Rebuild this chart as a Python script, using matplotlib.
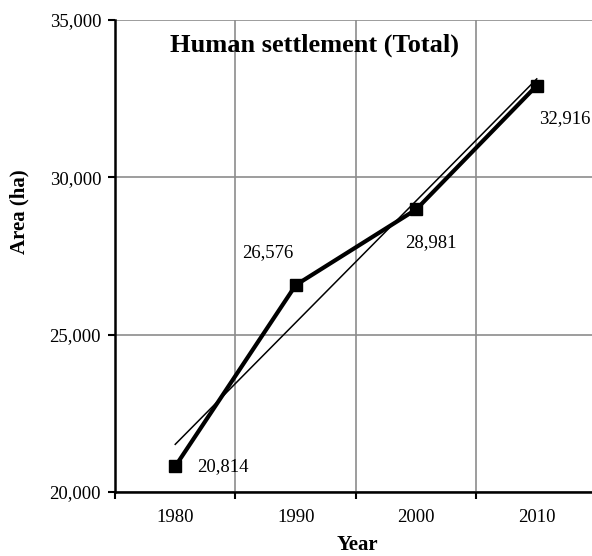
import numpy as np
import matplotlib
matplotlib.use('Agg')
from matplotlib import pyplot as plt
from matplotlib.ticker import FuncFormatter

years = ['1980', '1990', '2000', '2010']
area = [20814, 26576, 28981, 32916]
labels = ['20,814', '26,576', '28,981', '32,916']

plt.rcParams['font.family'] = ['Liberation Serif', 'DejaVu Serif']

fig = plt.figure(figsize=(5.92, 5.56), dpi=100)
ax = fig.add_axes([115 / 592, 1 - 492 / 556, 482 / 592, 472 / 556])

x = np.arange(len(years))

# linear trend line over the series
k, b = np.polyfit(x, area, 1)
ax.plot(x, k * x + b, color='black', lw=1.1, zorder=3)

ax.plot(x, area, color='black', lw=3, marker='s', ms=8, zorder=4)

# data labels, offsets in pixels
offsets = [(22, 0, 'left'), (-2, 32, 'right'), (-11, -33, 'left'), (2, -33, 'left')]
for xi, yi, lab, (dx, dy, ha) in zip(x, area, labels, offsets):
    ax.annotate(lab, (xi, yi), xytext=(dx, dy), textcoords='offset pixels',
                ha=ha, va='center', fontsize=13.5)

ax.set_xlim(-0.5, len(years) - 0.5)
ax.set_ylim(20000, 35000)
ax.set_yticks([20000, 25000, 30000, 35000])
ax.yaxis.set_major_formatter(FuncFormatter(lambda v, p: '{:,.0f}'.format(v)))
ax.set_xticks(x)
ax.set_xticklabels(years)
ax.set_xticks(np.arange(-0.5, len(years)), minor=True)

ax.tick_params(axis='x', which='major', length=0, labelsize=13.5, pad=12)
ax.tick_params(axis='x', which='minor', length=5, width=1.5, direction='out')
ax.tick_params(axis='y', length=5, width=1.5, labelsize=13.5, pad=5)

ax.grid(True, axis='y', color='#8c8c8c', lw=1.2)
ax.grid(True, axis='x', which='minor', color='#8c8c8c', lw=1.2)
ax.set_axisbelow(True)

for s in ['top', 'right']:
    ax.spines[s].set_visible(False)
for s in ['left', 'bottom']:
    ax.spines[s].set_linewidth(1.8)

fig.text(19 / 592, 1 - 212 / 556, 'Area (ha)', rotation=90, ha='center', va='center',
         fontsize=15, fontweight='bold')
fig.text(357 / 592, 1 - 545 / 556, 'Year', ha='center', va='center',
         fontsize=15, fontweight='bold')

ax.text((315 - 115) / 482, 1 - 25 / 472, 'Human settlement (Total)', transform=ax.transAxes,
        ha='center', va='center', fontsize=19, fontweight='bold')

fig.savefig('out.png', dpi=100)
